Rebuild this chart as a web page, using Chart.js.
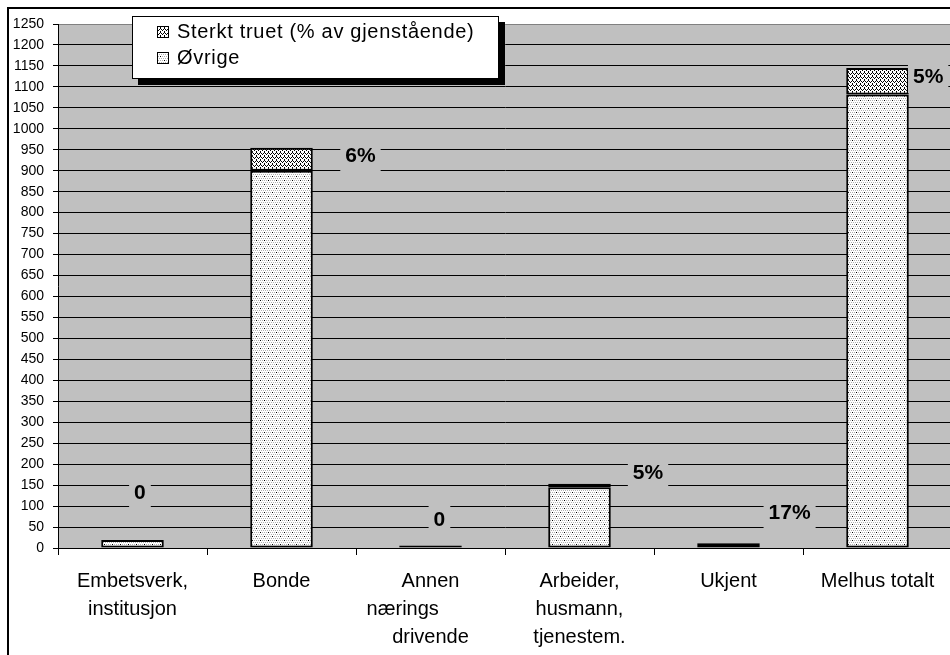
<!DOCTYPE html>
<html><head><meta charset="utf-8">
<script src="https://cdn.jsdelivr.net/npm/chart.js@4/dist/chart.umd.min.js"></script>
<style>
html,body{margin:0;padding:0;overflow:hidden;background:#fff;width:950px;height:655px}
#wrap{position:absolute;left:0;top:0;width:960px;height:655px}
</style></head><body><div id="wrap"><canvas id="c" width="960" height="655"></canvas></div>
<script>
// ---- data ----
const NB = '\u00a0';
const categories = [
  ["Embetsverk,", "institusjon"],
  "Bonde",
  ["Annen", "nærings" + NB.repeat(10), "drivende"],
  ["Arbeider,", "husmann,", "tjenestem."],
  "Ukjent",
  "Melhus totalt"
];
const seriesNames = ["Sterkt truet (% av gjenstående)", "Øvrige"];
const sterktTruet = [0, 55, 0, 8, 2, 63];
const ovrige = [19, 900, 6, 145, 10, 1082];
const pctLabels = ["0", "6%", "0", "5%", "17%", "5%"];
const yMin = 0, yMax = 1250, yStep = 50;

// ---- layout (label placement: category offset fraction, value level) ----
const labelPlace = [[0.05, 134], [0.53, 937], [0.06, 69], [0.46, 181], [0.41, 86], [0.34, 1126]];
const FONT = '"Liberation Sans", Arial, sans-serif';

function makePattern(w, h, bg, pts, col) {
  const c = document.createElement('canvas'); c.width = w; c.height = h;
  const g = c.getContext('2d');
  g.fillStyle = bg; g.fillRect(0, 0, w, h);
  pts.forEach(p => { g.fillStyle = p[2] || col; g.fillRect(p[0], p[1], 1, 1); });
  return document.getElementById('c').getContext('2d').createPattern(c, 'repeat');
}
// dotted (Øvrige)
const dotPts = [];
for (let y = 0; y < 8; y += 2) for (let x = 0; x < 8; x += 2) dotPts.push([x + ((y / 2) % 2), y, '#b0b0b0']);
dotPts.push([0, 0, '#000'], [4, 4, '#000']);
const dotPattern = makePattern(8, 8, '#fff', dotPts, '#b0b0b0');
// wave mesh (Sterkt truet)
const wavePts = [[0,0],[4,0],[1,1],[3,1],[5,1],[7,1],[2,2],[6,2],[0,3],[4,3]];
const wavePattern = makePattern(8, 4, '#fff', wavePts, '#000');

const decor = {
  id: 'decor',
  beforeDraw(chart) {
    const { ctx, chartArea: a } = chart;
    ctx.save();
    ctx.fillStyle = '#fff'; ctx.fillRect(0, 0, chart.width, chart.height);
    ctx.fillStyle = '#c0c0c0'; ctx.fillRect(a.left, a.top, a.right - a.left, a.bottom - a.top);
    ctx.strokeStyle = '#000'; ctx.lineWidth = 2;
    ctx.beginPath(); ctx.moveTo(8, chart.height + 4); ctx.lineTo(8, 8); ctx.lineTo(chart.width + 4, 8); ctx.stroke();
    ctx.restore();
  },
  afterDatasetsDraw(chart) {
    const { ctx } = chart;
    const xs = chart.scales.x, ys = chart.scales.y;
    const catW = xs.getPixelForValue(1) - xs.getPixelForValue(0);
    ctx.save();
    ctx.font = 'bold 21px ' + FONT;
    ctx.textAlign = 'center'; ctx.textBaseline = 'middle';
    pctLabels.forEach((t, i) => {
      const cx = xs.getPixelForValue(i) + labelPlace[i][0] * catW;
      const cy = ys.getPixelForValue(labelPlace[i][1]);
      const w = ctx.measureText(t).width + 10;
      ctx.fillStyle = '#c0c0c0';
      ctx.fillRect(cx - w / 2, cy - 17, w, 34);
      ctx.fillStyle = '#000';
      ctx.fillText(t, cx, cy + 1);
    });
    ctx.restore();
  },
  afterDraw(chart) {
    const { ctx } = chart;
    ctx.save();
    ctx.fillStyle = '#000'; ctx.fillRect(138, 22, 367, 63);
    ctx.fillStyle = '#fff'; ctx.fillRect(132, 16, 367, 63);
    ctx.strokeStyle = '#000'; ctx.lineWidth = 1; ctx.strokeRect(132.5, 16.5, 366, 62);
    const pats = [wavePattern, dotPattern];
    ctx.font = '20px ' + FONT; ctx.textAlign = 'left'; ctx.textBaseline = 'alphabetic';
    try { ctx.letterSpacing = '0.7px'; } catch (e) {}
    seriesNames.forEach((n, i) => {
      const y = 26 + i * 26;
      ctx.fillStyle = pats[i]; ctx.fillRect(157, y, 12, 12);
      ctx.strokeStyle = '#000'; ctx.strokeRect(157.5, y + 0.5, 11, 11);
      ctx.fillStyle = '#000'; ctx.fillText(n, 177, 38 + i * 26);
    });
    ctx.restore();
  }
};

new Chart(document.getElementById('c'), {
  type: 'bar',
  data: {
    labels: categories,
    datasets: [
      { label: seriesNames[1], data: ovrige, backgroundColor: dotPattern, borderColor: '#000', borderWidth: 2, borderSkipped: false },
      { label: seriesNames[0], data: sterktTruet, backgroundColor: wavePattern, borderColor: '#000', borderWidth: 2, borderSkipped: false }
    ]
  },
  options: {
    responsive: false,
    devicePixelRatio: 1,
    animation: false,
    categoryPercentage: 1,
    barPercentage: 0.42,
    layout: { padding: { top: 24, right: 8, left: 0, bottom: 0 } },
    plugins: { legend: { display: false }, tooltip: { enabled: false } },
    scales: {
      x: {
        stacked: true,
        grid: { display: true, drawOnChartArea: false, drawTicks: true, tickLength: 7, color: '#000', offset: true },
        border: { display: true, color: '#000', width: 1 },
        ticks: { color: '#000', font: { family: FONT, size: 20, lineHeight: 1.4 }, padding: 12, maxRotation: 0, autoSkip: false },
        afterFit(s) { s.height = 107; }
      },
      y: {
        stacked: true,
        min: yMin, max: yMax,
        grid: { color: c => (c.tick && c.tick.value === yMax) ? '#808080' : '#000', tickColor: '#000', tickLength: 5, lineWidth: 1 },
        border: { display: true, color: '#000', width: 1 },
        ticks: { stepSize: yStep, color: '#000', font: { family: FONT, size: 14 }, padding: 9, autoSkip: false, callback: v => String(v) },
        afterFit(s) { s.width = 58; }
      }
    }
  },
  plugins: [decor]
});
</script></body></html>
